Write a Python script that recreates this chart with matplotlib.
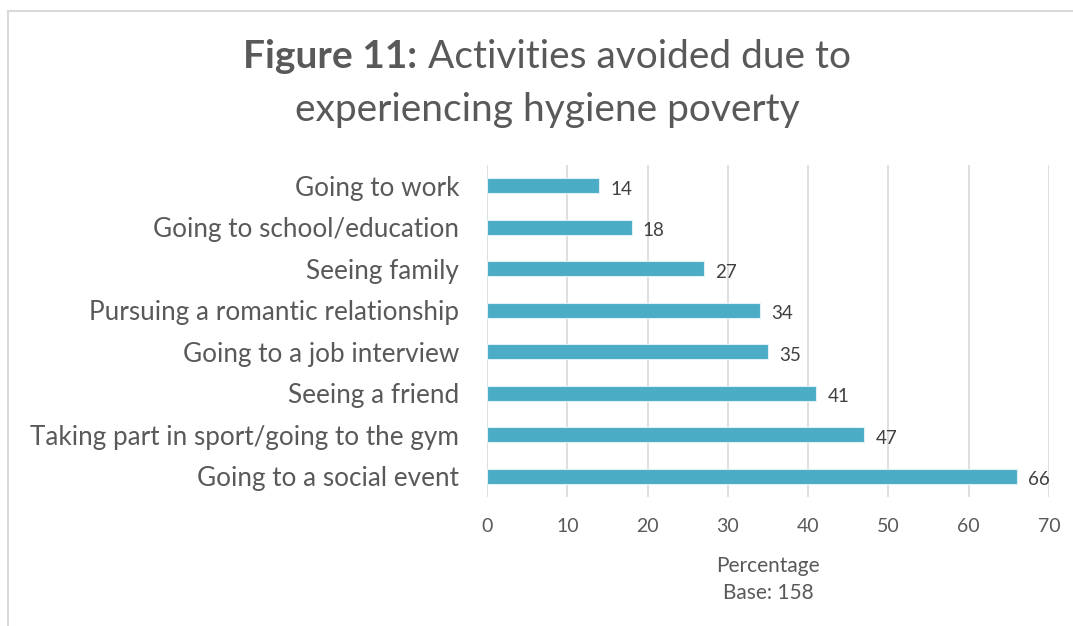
import matplotlib
matplotlib.use("Agg")
import matplotlib.pyplot as plt
from matplotlib.lines import Line2D

plt.rcParams['font.family'] = ['Lato', 'DejaVu Sans']

categories = [
    "Going to work",
    "Going to school/education",
    "Seeing family",
    "Pursuing a romantic relationship",
    "Going to a job interview",
    "Seeing a friend",
    "Taking part in sport/going to the gym",
    "Going to a social event",
]
values = [14, 18, 27, 34, 35, 41, 47, 66]
x_ticks = [0, 10, 20, 30, 40, 50, 60, 70]

text_color = "#595959"
bar_color = "#4BACC6"
grid_color = "#D9D9D9"

W, H = 1073, 626
fig = plt.figure(figsize=(W / 100, H / 100), dpi=100)
ax = fig.add_axes([487 / W, 1 - 497 / H, (1049 - 487) / W, (497 - 165) / H])

y = list(range(len(categories)))
ax.barh(y, values, height=0.36, color=bar_color, edgecolor="#DDF0F5", linewidth=0.8, zorder=3)
ax.set_ylim(len(categories) - 0.5, -0.5)
ax.set_xlim(0, 70)
ax.set_xticks(x_ticks)
ax.set_xticklabels([str(t) for t in x_ticks])
ax.set_yticks(y)
ax.set_yticklabels(categories)

for yi, v in zip(y, values):
    ax.text(v + 1.4, yi + 0.08, f"{v}", va="center", ha="left", fontsize=13.5, color="#404040")

ax.grid(axis="x", color=grid_color, linewidth=1.2, zorder=0)
for s in ax.spines.values():
    s.set_visible(False)
ax.tick_params(axis="x", length=0, pad=15, labelsize=14, labelcolor=text_color)
ax.tick_params(axis="y", length=0, pad=20, labelsize=18.8, labelcolor=text_color)

ax.set_xlabel("Percentage\nBase: 158", fontsize=15, color=text_color, labelpad=15, linespacing=1.45)

# Title: bold figure number followed by regular text, centred as one line
title_size = 28
renderer = fig.canvas.get_renderer()
t_bold = fig.text(0, 1 - 57 / H, "Figure 11:", ha="left", va="center",
                  fontsize=title_size, fontweight="bold", color=text_color)
t_reg = fig.text(0, 1 - 57 / H, " Activities avoided due to", ha="left", va="center",
                 fontsize=title_size, color=text_color)
wb = t_bold.get_window_extent(renderer).width
wr = t_reg.get_window_extent(renderer).width
x0 = 547 - (wb + wr) / 2
t_bold.set_x(x0 / W)
t_reg.set_x((x0 + wb) / W)
fig.text(547 / W, 1 - 110 / H, "experiencing hygiene poverty",
         ha="center", va="center", fontsize=title_size, color=text_color)

# Chart area frame (top and left edges)
fig.add_artist(Line2D([8 / W, 1.0], [1 - 11 / H, 1 - 11 / H], transform=fig.transFigure,
                      color="#D9D9D9", linewidth=1.5))
fig.add_artist(Line2D([8 / W, 8 / W], [0, 1 - 11 / H], transform=fig.transFigure,
                      color="#D9D9D9", linewidth=1.5))

fig.savefig("out.png", dpi=100)
